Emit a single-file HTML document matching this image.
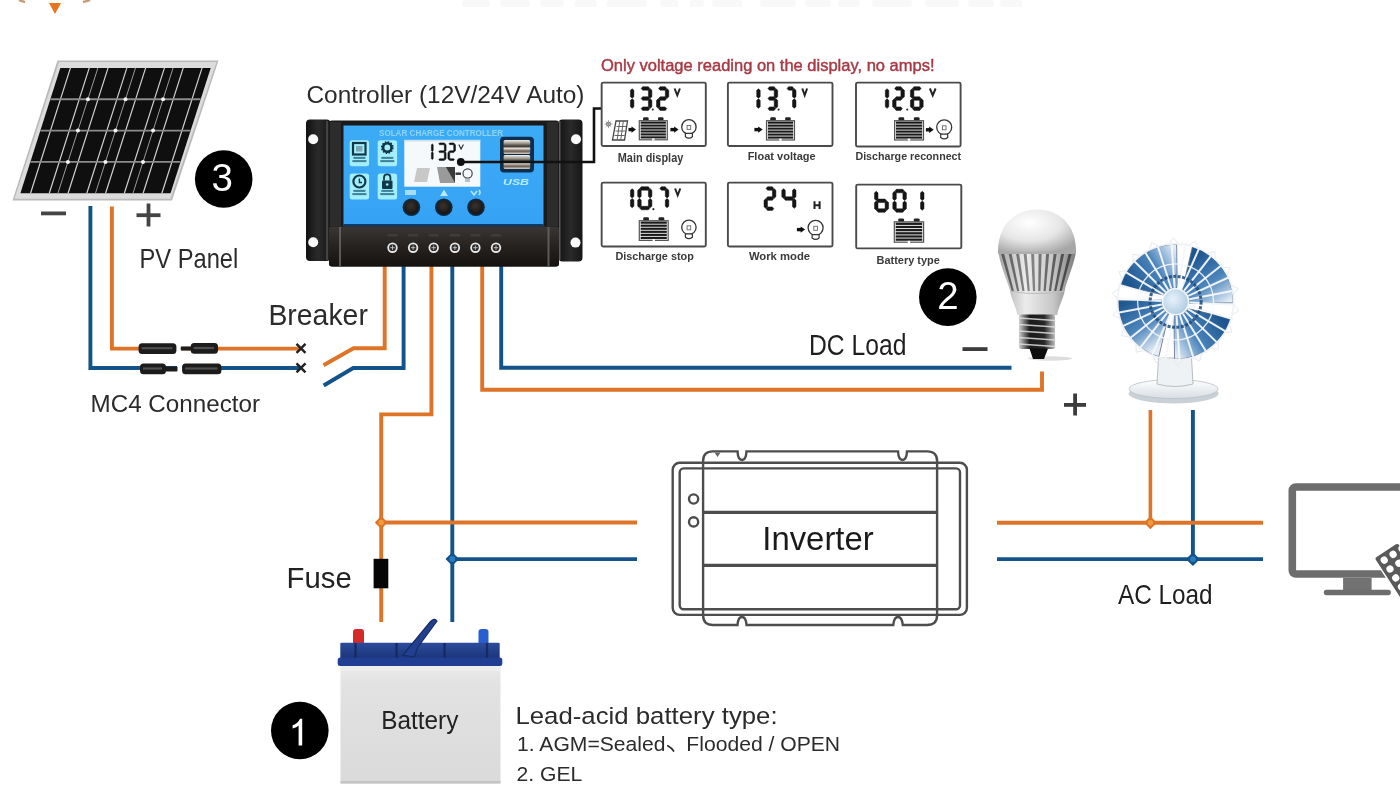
<!DOCTYPE html>
<html><head><meta charset="utf-8">
<style>
html,body{margin:0;padding:0;background:#fff;width:1400px;height:788px;overflow:hidden}
svg{display:block;will-change:transform}
text{font-family:"Liberation Sans",sans-serif}
</style></head><body>
<svg width="1400" height="788" viewBox="0 0 1400 788">
<rect width="1400" height="788" fill="#fff"/>
<polygon points="49,3 61,3 55,14" fill="#e8741f"/>
<path d="M19,0 L25,2.2" stroke="#b07a4a" stroke-width="2.4" opacity="0.75"/>
<path d="M90,0 L83,2.2" stroke="#b07a4a" stroke-width="2.4" opacity="0.75"/>
<g fill="#f8f8f8"><rect x="462" y="0" width="28" height="7" rx="2"/><rect x="500" y="0" width="30" height="7" rx="2"/><rect x="540" y="0" width="24" height="7" rx="2"/><rect x="575" y="0" width="22" height="7" rx="2"/><rect x="607" y="0" width="40" height="7" rx="2"/><rect x="660" y="0" width="18" height="7" rx="2"/><rect x="690" y="0" width="14" height="7" rx="2"/><rect x="712" y="0" width="30" height="7" rx="2"/><rect x="760" y="0" width="36" height="7" rx="2"/><rect x="805" y="0" width="26" height="7" rx="2"/><rect x="838" y="0" width="22" height="7" rx="2"/><rect x="872" y="0" width="40" height="7" rx="2"/><rect x="925" y="0" width="34" height="7" rx="2"/><rect x="968" y="0" width="26" height="7" rx="2"/><rect x="1000" y="0" width="22" height="7" rx="2"/></g>
<polygon points="57.5,60.5 218.5,60.5 172,200.5 12.5,200.5" fill="#b9b9b9"/>
<polygon points="59,62 216.5,62 170.5,198.8 14.5,198.8" fill="#dcdcdc"/>
<polygon points="60.3,67.9 210.7,67.9 170.5,193.3 20.4,193.3" fill="#0f0f0f"/>
<polygon points="61.17,69.4 96.07,69.4 87.03,97.75 52.16,97.75" fill="#0f0f0f" stroke="#0f0f0f" stroke-width="1" stroke-linejoin="round"/>
<polygon points="98.77,69.4 133.67,69.4 124.62,97.75 89.74,97.75" fill="#0f0f0f" stroke="#0f0f0f" stroke-width="1" stroke-linejoin="round"/>
<polygon points="136.37,69.4 171.26,69.4 162.2,97.75 127.32,97.75" fill="#0f0f0f" stroke="#0f0f0f" stroke-width="1" stroke-linejoin="round"/>
<polygon points="173.97,69.4 208.86,69.4 199.78,97.75 164.9,97.75" fill="#0f0f0f" stroke="#0f0f0f" stroke-width="1" stroke-linejoin="round"/>
<polygon points="51.2,100.75 86.07,100.75 77.04,129.1 42.18,129.1" fill="#0f0f0f" stroke="#0f0f0f" stroke-width="1" stroke-linejoin="round"/>
<polygon points="88.78,100.75 123.65,100.75 114.6,129.1 79.74,129.1" fill="#0f0f0f" stroke="#0f0f0f" stroke-width="1" stroke-linejoin="round"/>
<polygon points="126.36,100.75 161.23,100.75 152.17,129.1 117.31,129.1" fill="#0f0f0f" stroke="#0f0f0f" stroke-width="1" stroke-linejoin="round"/>
<polygon points="163.94,100.75 198.81,100.75 189.73,129.1 154.87,129.1" fill="#0f0f0f" stroke="#0f0f0f" stroke-width="1" stroke-linejoin="round"/>
<polygon points="41.22,132.1 76.08,132.1 67.05,160.45 32.21,160.45" fill="#0f0f0f" stroke="#0f0f0f" stroke-width="1" stroke-linejoin="round"/>
<polygon points="78.79,132.1 113.64,132.1 104.59,160.45 69.75,160.45" fill="#0f0f0f" stroke="#0f0f0f" stroke-width="1" stroke-linejoin="round"/>
<polygon points="116.35,132.1 151.2,132.1 142.14,160.45 107.29,160.45" fill="#0f0f0f" stroke="#0f0f0f" stroke-width="1" stroke-linejoin="round"/>
<polygon points="153.91,132.1 188.77,132.1 179.68,160.45 144.84,160.45" fill="#0f0f0f" stroke="#0f0f0f" stroke-width="1" stroke-linejoin="round"/>
<polygon points="31.25,163.45 66.09,163.45 57.05,191.8 22.23,191.8" fill="#0f0f0f" stroke="#0f0f0f" stroke-width="1" stroke-linejoin="round"/>
<polygon points="68.79,163.45 103.63,163.45 94.58,191.8 59.76,191.8" fill="#0f0f0f" stroke="#0f0f0f" stroke-width="1" stroke-linejoin="round"/>
<polygon points="106.33,163.45 141.17,163.45 132.11,191.8 97.28,191.8" fill="#0f0f0f" stroke="#0f0f0f" stroke-width="1" stroke-linejoin="round"/>
<polygon points="143.88,163.45 178.72,163.45 169.63,191.8 134.81,191.8" fill="#0f0f0f" stroke="#0f0f0f" stroke-width="1" stroke-linejoin="round"/>
<path d="M70.45,67.9L30.53,193.3M89.25,67.9L49.29,193.3M108.05,67.9L68.06,193.3M126.85,67.9L86.82,193.3M145.65,67.9L105.58,193.3M164.45,67.9L124.34,193.3M183.25,67.9L143.11,193.3M202.05,67.9L161.87,193.3" stroke="#d0d0d0" stroke-width="1.2"/>
<path d="M50.32,99.25L200.65,99.25M40.35,130.6L190.6,130.6M30.38,161.95L180.55,161.95" stroke="#8c8c8c" stroke-width="1.8"/>
<path d="M97.9,67.9L57.92,193.3M135.5,67.9L95.45,193.3M173.1,67.9L132.97,193.3" stroke="#9a9a9a" stroke-width="1"/>
<circle cx="87.91" cy="99.25" r="2" fill="#f2f2f2"/>
<circle cx="125.49" cy="99.25" r="2" fill="#f2f2f2"/>
<circle cx="163.07" cy="99.25" r="2" fill="#f2f2f2"/>
<circle cx="77.91" cy="130.6" r="2" fill="#f2f2f2"/>
<circle cx="115.47" cy="130.6" r="2" fill="#f2f2f2"/>
<circle cx="153.04" cy="130.6" r="2" fill="#f2f2f2"/>
<circle cx="67.92" cy="161.95" r="2" fill="#f2f2f2"/>
<circle cx="105.46" cy="161.95" r="2" fill="#f2f2f2"/>
<circle cx="143.01" cy="161.95" r="2" fill="#f2f2f2"/>
<rect x="41" y="211.5" width="25" height="3.8" fill="#444"/>
<rect x="136.5" y="213.3" width="24" height="3.8" fill="#444"/><rect x="146.6" y="203.5" width="3.8" height="23" fill="#444"/>
<polyline fill="none" stroke="#14528a" stroke-width="3.9" stroke-linejoin="miter" points="90.4,206 90.4,368 301,368"/>
<polyline fill="none" stroke="#14528a" stroke-width="3.9" stroke-linejoin="miter" points="403.6,266 403.6,368 353.2,368 323.7,385.5"/>
<polyline fill="none" stroke="#14528a" stroke-width="3.9" stroke-linejoin="miter" points="452.3,266 452.3,622"/>
<polyline fill="none" stroke="#14528a" stroke-width="3.9" stroke-linejoin="miter" points="452.3,559.1 637,559.1"/>
<polyline fill="none" stroke="#14528a" stroke-width="3.9" stroke-linejoin="miter" points="501.2,266 501.2,367.8 1011.5,367.8"/>
<polyline fill="none" stroke="#14528a" stroke-width="3.9" stroke-linejoin="miter" points="997,559.1 1263,559.1"/>
<polyline fill="none" stroke="#14528a" stroke-width="3.9" stroke-linejoin="miter" points="1192.9,410 1192.9,559.1"/>
<polyline fill="none" stroke="#de7427" stroke-width="3.9" stroke-linejoin="miter" points="111.9,206.5 111.9,348.6 301,348.6"/>
<polyline fill="none" stroke="#de7427" stroke-width="3.9" stroke-linejoin="miter" points="384.7,266 384.7,348.2 353.5,348.2 323.5,365.3"/>
<polyline fill="none" stroke="#de7427" stroke-width="3.9" stroke-linejoin="miter" points="431.4,266 431.4,414.4 381.2,414.4 381.2,622"/>
<polyline fill="none" stroke="#de7427" stroke-width="3.9" stroke-linejoin="miter" points="381.2,522.5 637,522.5"/>
<polyline fill="none" stroke="#de7427" stroke-width="3.9" stroke-linejoin="miter" points="482.2,266 482.2,389.7 1042,389.7 1042,371.5"/>
<polyline fill="none" stroke="#de7427" stroke-width="3.9" stroke-linejoin="miter" points="997,522.8 1263,522.8"/>
<polyline fill="none" stroke="#de7427" stroke-width="3.6" stroke-linejoin="miter" points="1150.4,410 1150.4,522.8"/>
<path d="M381.2,517.1 L386.6,522.5 L381.2,527.9 L375.8,522.5 Z" fill="#de7427" stroke="#de7427" stroke-width="1.5" stroke-linejoin="round"/>
<circle cx="381.2" cy="522.5" r="2.7" fill="#f49a38"/>
<path d="M452.3,553.2 L458.1,559 L452.3,564.8 L446.5,559 Z" fill="#14528a" stroke="#14528a" stroke-width="1.5" stroke-linejoin="round"/>
<circle cx="452.3" cy="559" r="2.9" fill="#2a7cc0"/>
<path d="M1150.4,517.4 L1155.8,522.8 L1150.4,528.2 L1145,522.8 Z" fill="#de7427" stroke="#de7427" stroke-width="1.5" stroke-linejoin="round"/>
<circle cx="1150.4" cy="522.8" r="2.7" fill="#f49a38"/>
<path d="M1192.9,553.3 L1198.7,559.1 L1192.9,564.9 L1187.1,559.1 Z" fill="#14528a" stroke="#14528a" stroke-width="1.5" stroke-linejoin="round"/>
<circle cx="1192.9" cy="559.1" r="2.9" fill="#2a7cc0"/>
<path d="M296.5,343.9 L305.5,352.9 M305.5,343.9 L296.5,352.9" stroke="#222" stroke-width="2.4"/>
<path d="M296.5,363.4 L305.5,372.4 M305.5,363.4 L296.5,372.4" stroke="#222" stroke-width="2.4"/>
<rect x="176" y="345" width="5" height="8" fill="#fff"/><rect x="177" y="364" width="5.5" height="9" fill="#fff"/>
<rect x="138.6" y="343.3" width="37.8" height="10.6" rx="3.5" fill="#1c1c1c"/>
<rect x="141.6" y="347.1" width="30.8" height="2.2" fill="#5c5c5c" opacity="0.8"/>
<rect x="190.7" y="343.1" width="27.3" height="10.6" rx="3.5" fill="#1c1c1c"/>
<rect x="193.7" y="346.9" width="20.3" height="2.2" fill="#5c5c5c" opacity="0.8"/>
<rect x="180.7" y="346.4" width="11" height="4.2" rx="1" fill="#1c1c1c"/>
<rect x="140" y="363.6" width="26" height="10.6" rx="3.5" fill="#1c1c1c"/>
<rect x="143" y="367.4" width="19" height="2.2" fill="#5c5c5c" opacity="0.8"/>
<rect x="182.1" y="363.6" width="39.3" height="10.6" rx="3.5" fill="#1c1c1c"/>
<rect x="185.1" y="367.4" width="32.3" height="2.2" fill="#5c5c5c" opacity="0.8"/>
<rect x="165" y="366.4" width="12.5" height="5" rx="1" fill="#1c1c1c"/>
<rect x="373.6" y="558.8" width="14.7" height="29.5" fill="#050505"/>
<rect x="962.5" y="347.2" width="25" height="3.8" fill="#3c3c3c"/>
<rect x="1064" y="403" width="22" height="3.8" fill="#3c3c3c"/><rect x="1073.2" y="393.5" width="3.8" height="22" fill="#3c3c3c"/>
<defs><linearGradient id="gBlue" x1="0" y1="0" x2="0" y2="1"><stop offset="0" stop-color="#3cacf6"/><stop offset="1" stop-color="#36a2f4"/></linearGradient><linearGradient id="gStrip" x1="0" y1="0" x2="0" y2="1"><stop offset="0" stop-color="#3a3634"/><stop offset="0.5" stop-color="#26221f"/><stop offset="1" stop-color="#141210"/></linearGradient><linearGradient id="gBrk" x1="0" y1="0" x2="1" y2="0"><stop offset="0" stop-color="#121212"/><stop offset="0.5" stop-color="#2a2a2a"/><stop offset="1" stop-color="#161616"/></linearGradient><linearGradient id="gUsb" x1="0" y1="0" x2="0" y2="1"><stop offset="0" stop-color="#f2f2f2"/><stop offset="0.25" stop-color="#9a9488"/><stop offset="0.45" stop-color="#3a3430"/><stop offset="0.6" stop-color="#e0dcd4"/><stop offset="0.8" stop-color="#6a5a50"/><stop offset="1" stop-color="#d8d2c8"/></linearGradient><radialGradient id="gBtn" cx="0.45" cy="0.4" r="0.6"><stop offset="0" stop-color="#3a332c"/><stop offset="1" stop-color="#151515"/></radialGradient></defs>
<rect x="306" y="119.5" width="24.5" height="141.5" rx="4" fill="url(#gBrk)"/>
<rect x="558.5" y="119.5" width="24" height="142" rx="4" fill="url(#gBrk)"/>
<rect x="326" y="121" width="2.2" height="139" fill="#555" opacity="0.7"/>
<rect x="558.5" y="121" width="2" height="139" fill="#777" opacity="0.7"/>
<circle cx="313.2" cy="139.2" r="5" fill="#fafafa"/>
<circle cx="313.2" cy="242.2" r="5" fill="#fafafa"/>
<circle cx="576" cy="139.2" r="5" fill="#fafafa"/>
<circle cx="575.5" cy="242.6" r="5" fill="#fafafa"/>
<rect x="329" y="120.5" width="230" height="146" rx="3" fill="#1a1a1a"/>
<rect x="330" y="122" width="11" height="104" fill="#2c2c2c"/>
<rect x="547" y="122" width="11" height="104" fill="#2c2c2c"/>
<rect x="343.5" y="125.5" width="200" height="100" fill="url(#gBlue)"/>
<rect x="343.5" y="224" width="200" height="2.6" fill="#0e3a66"/>
<text x="441" y="135.5" font-size="8.6" font-weight="bold" fill="#8fd3f7" text-anchor="middle" textLength="124" lengthAdjust="spacingAndGlyphs" font-family="Liberation Sans">SOLAR CHARGE CONTROLLER</text>
<rect x="349.7" y="140.3" width="19.4" height="26" rx="2.5" fill="#a2eefa"/>
<rect x="377.7" y="140.3" width="19.4" height="26" rx="2.5" fill="#a2eefa"/>
<rect x="349.7" y="173.4" width="19.4" height="26" rx="2.5" fill="#a2eefa"/>
<rect x="377.7" y="173.4" width="19.4" height="26" rx="2.5" fill="#a2eefa"/>
<rect x="353" y="143" width="12.5" height="11.5" fill="none" stroke="#10384a" stroke-width="2.2"/><rect x="356" y="146" width="6.5" height="5.5" fill="#7aa8b4"/>
<circle cx="387.3" cy="147.5" r="4.2" fill="none" stroke="#10384a" stroke-width="2.6"/><circle cx="387.3" cy="147.5" r="5.6" fill="none" stroke="#10384a" stroke-width="1.6" stroke-dasharray="1.5 1.4"/>
<circle cx="359.4" cy="181.5" r="6" fill="none" stroke="#10384a" stroke-width="2.2"/><path d="M359.4,178.5 V182.5 H362" fill="none" stroke="#10384a" stroke-width="1.4"/>
<rect x="382" y="180.5" width="10.5" height="8.5" rx="1" fill="#10384a"/><path d="M384,180.5 v-3 a3.2,3.2 0 0 1 6.4,0 v3" fill="none" stroke="#10384a" stroke-width="1.8"/><circle cx="387.2" cy="184.5" r="1.3" fill="#a2eefa"/>
<rect x="353.4" y="156.9" width="12" height="2" fill="#1b5a78" opacity="0.75"/><rect x="352.4" y="160.1" width="14" height="2" fill="#1b5a78" opacity="0.75"/>
<rect x="381.3" y="156.9" width="12" height="2" fill="#1b5a78" opacity="0.75"/><rect x="380.3" y="160.1" width="14" height="2" fill="#1b5a78" opacity="0.75"/>
<rect x="353.4" y="189.9" width="12" height="2" fill="#1b5a78" opacity="0.75"/><rect x="352.4" y="193.1" width="14" height="2" fill="#1b5a78" opacity="0.75"/>
<rect x="381.3" y="189.9" width="12" height="2" fill="#1b5a78" opacity="0.75"/><rect x="380.3" y="193.1" width="14" height="2" fill="#1b5a78" opacity="0.75"/>
<rect x="404.3" y="139.9" width="76" height="46.8" fill="#f6f9fb"/>
<rect x="404.3" y="139.9" width="76" height="1.6" fill="#cfe3ee"/>
<path d="M432.3,151.86L433.2,152.64L433.2,158.66L432.3,159.44L431.4,158.66L431.4,152.64ZM432.3,143.96L433.2,144.74L433.2,150.76L432.3,151.54L431.4,150.76L431.4,144.74Z" fill="#111" stroke="#111" stroke-width="0.5" stroke-linejoin="round"/>
<path d="M438.76,143.8L439.54,142.9L444.26,142.9L445.04,143.8L444.26,144.7L439.54,144.7ZM445.2,143.96L446.1,144.74L446.1,150.76L445.2,151.54L444.3,150.76L444.3,144.74ZM438.76,151.7L439.54,150.8L444.26,150.8L445.04,151.7L444.26,152.6L439.54,152.6ZM445.2,151.86L446.1,152.64L446.1,158.66L445.2,159.44L444.3,158.66L444.3,152.64ZM438.76,159.6L439.54,158.7L444.26,158.7L445.04,159.6L444.26,160.5L439.54,160.5Z" fill="#111" stroke="#111" stroke-width="0.5" stroke-linejoin="round"/>
<path d="M448.96,143.8L449.74,142.9L453.66,142.9L454.44,143.8L453.66,144.7L449.74,144.7ZM454.6,143.96L455.5,144.74L455.5,150.76L454.6,151.54L453.7,150.76L453.7,144.74ZM448.96,151.7L449.74,150.8L453.66,150.8L454.44,151.7L453.66,152.6L449.74,152.6ZM448.8,151.86L449.7,152.64L449.7,158.66L448.8,159.44L447.9,158.66L447.9,152.64ZM448.96,159.6L449.74,158.7L453.66,158.7L454.44,159.6L453.66,160.5L449.74,160.5Z" fill="#111" stroke="#111" stroke-width="0.5" stroke-linejoin="round"/>
<path d="M458.8,144.5 L461.1,149 L463.4,144.5" fill="none" stroke="#222" stroke-width="1.1"/>
<polygon points="417,168 430,168 427,182 414,182" fill="#c8c8c8"/>
<polygon points="437,167 447,167 455,183 440,183" fill="#9a9a9a"/><polygon points="446,167 455,167 455,183" fill="#3a3a3a"/>
<rect x="455.5" y="172.5" width="5.5" height="2.4" fill="#333"/>
<circle cx="467.6" cy="173.5" r="4.6" fill="none" stroke="#444" stroke-width="1.2"/><rect x="465" y="178" width="5" height="4" fill="#9ab" opacity="0.7"/>
<rect x="500" y="136.8" width="34" height="35.6" rx="4" fill="#0d2f4d"/>
<rect x="503.6" y="140" width="26.6" height="14" rx="1.5" fill="url(#gUsb)"/>
<rect x="503.6" y="155" width="26.6" height="14" rx="1.5" fill="url(#gUsb)"/>
<text x="516" y="185" font-size="9.5" font-weight="bold" font-style="italic" fill="#b8ecfc" text-anchor="middle" font-family="Liberation Sans" textLength="26" lengthAdjust="spacingAndGlyphs">USB</text>
<rect x="405" y="190" width="11" height="5" fill="#b8e6fa" opacity="0.85"/>
<polygon points="444,189.5 448,196 440,196" fill="#b8e6fa"/>
<path d="M471,191 l3,4 l3,-4 M479,190 q2,2.5 0,5" fill="none" stroke="#b8e6fa" stroke-width="1.6"/>
<circle cx="411.4" cy="207.2" r="8.8" fill="#0d2a44"/><circle cx="411.4" cy="207.2" r="7.2" fill="url(#gBtn)"/>
<circle cx="443.8" cy="207.2" r="8.8" fill="#0d2a44"/><circle cx="443.8" cy="207.2" r="7.2" fill="url(#gBtn)"/>
<circle cx="476" cy="207.2" r="8.8" fill="#0d2a44"/><circle cx="476" cy="207.2" r="7.2" fill="url(#gBtn)"/>
<polyline points="461,162 594,162 594,108.5 601,108.5" fill="none" stroke="#111" stroke-width="2.6"/>
<circle cx="460.8" cy="162" r="3.9" fill="#111"/>
<rect x="329" y="226.6" width="230" height="40" rx="3" fill="url(#gStrip)"/>
<rect x="339" y="227" width="2" height="39" fill="#6a6a6a" opacity="0.8"/><rect x="547.5" y="227" width="2" height="39" fill="#6a6a6a" opacity="0.8"/>
<circle cx="392.5" cy="247.7" r="5.2" fill="#e8e8e8"/><circle cx="392.5" cy="247.7" r="3.4" fill="#2a2a2a"/><path d="M390.3,247.7 h4.4 M392.5,245.5 v4.4" stroke="#bbb" stroke-width="1"/>
<rect x="387.5" y="234" width="10" height="2.5" fill="#4a4644" opacity="0.6"/>
<circle cx="413.1" cy="247.7" r="5.2" fill="#e8e8e8"/><circle cx="413.1" cy="247.7" r="3.4" fill="#2a2a2a"/><path d="M410.90000000000003,247.7 h4.4 M413.1,245.5 v4.4" stroke="#bbb" stroke-width="1"/>
<rect x="408.1" y="234" width="10" height="2.5" fill="#4a4644" opacity="0.6"/>
<circle cx="433.7" cy="247.7" r="5.2" fill="#e8e8e8"/><circle cx="433.7" cy="247.7" r="3.4" fill="#2a2a2a"/><path d="M431.5,247.7 h4.4 M433.7,245.5 v4.4" stroke="#bbb" stroke-width="1"/>
<rect x="428.7" y="234" width="10" height="2.5" fill="#4a4644" opacity="0.6"/>
<circle cx="454.9" cy="247.7" r="5.2" fill="#e8e8e8"/><circle cx="454.9" cy="247.7" r="3.4" fill="#2a2a2a"/><path d="M452.7,247.7 h4.4 M454.9,245.5 v4.4" stroke="#bbb" stroke-width="1"/>
<rect x="449.9" y="234" width="10" height="2.5" fill="#4a4644" opacity="0.6"/>
<circle cx="475.4" cy="247.7" r="5.2" fill="#e8e8e8"/><circle cx="475.4" cy="247.7" r="3.4" fill="#2a2a2a"/><path d="M473.2,247.7 h4.4 M475.4,245.5 v4.4" stroke="#bbb" stroke-width="1"/>
<rect x="470.4" y="234" width="10" height="2.5" fill="#4a4644" opacity="0.6"/>
<circle cx="496" cy="247.7" r="5.2" fill="#e8e8e8"/><circle cx="496" cy="247.7" r="3.4" fill="#2a2a2a"/><path d="M493.8,247.7 h4.4 M496,245.5 v4.4" stroke="#bbb" stroke-width="1"/>
<rect x="491" y="234" width="10" height="2.5" fill="#4a4644" opacity="0.6"/>
<rect x="601.65" y="82.6" width="104.15" height="63.4" rx="1.5" fill="#fff" stroke="#4a4a4a" stroke-width="1.9"/>
<rect x="727.9" y="82.6" width="104.6" height="63.4" rx="1.5" fill="#fff" stroke="#4a4a4a" stroke-width="1.9"/>
<rect x="856" y="82.6" width="104.6" height="63.9" rx="1.5" fill="#fff" stroke="#4a4a4a" stroke-width="1.9"/>
<rect x="601.65" y="182.6" width="104.15" height="63.9" rx="1.5" fill="#fff" stroke="#4a4a4a" stroke-width="1.9"/>
<rect x="727.9" y="182.6" width="104.6" height="63.9" rx="1.5" fill="#fff" stroke="#4a4a4a" stroke-width="1.9"/>
<rect x="856.2" y="184.6" width="105.1" height="63.8" rx="1.5" fill="#fff" stroke="#4a4a4a" stroke-width="1.9"/>
<path d="M632.15,98.87L633.9,100.37L633.9,106.83L632.15,108.34L630.4,106.83L630.4,100.37ZM632.15,88.77L633.9,90.27L633.9,96.73L632.15,98.24L630.4,96.73L630.4,90.27Z" fill="#151515" stroke="#151515" stroke-width="0.5" stroke-linejoin="round"/>
<path d="M641.17,88.45L642.67,86.7L648.33,86.7L649.83,88.45L648.33,90.2L642.67,90.2ZM650.15,88.77L651.9,90.27L651.9,96.73L650.15,98.24L648.4,96.73L648.4,90.27ZM641.17,98.55L642.67,96.8L648.33,96.8L649.83,98.55L648.33,100.3L642.67,100.3ZM650.15,98.87L651.9,100.37L651.9,106.83L650.15,108.34L648.4,106.83L648.4,100.37ZM641.17,108.65L642.67,106.9L648.33,106.9L649.83,108.65L648.33,110.4L642.67,110.4Z" fill="#151515" stroke="#151515" stroke-width="0.5" stroke-linejoin="round"/>
<path d="M658.57,88.45L660.07,86.7L665.23,86.7L666.73,88.45L665.23,90.2L660.07,90.2ZM667.05,88.77L668.8,90.27L668.8,96.73L667.05,98.24L665.3,96.73L665.3,90.27ZM658.57,98.55L660.07,96.8L665.23,96.8L666.73,98.55L665.23,100.3L660.07,100.3ZM658.25,98.87L660,100.37L660,106.83L658.25,108.34L656.5,106.83L656.5,100.37ZM658.57,108.65L660.07,106.9L665.23,106.9L666.73,108.65L665.23,110.4L660.07,110.4Z" fill="#151515" stroke="#151515" stroke-width="0.5" stroke-linejoin="round"/>
<path d="M758.45,98.87L760.2,100.37L760.2,106.83L758.45,108.34L756.7,106.83L756.7,100.37ZM758.45,88.77L760.2,90.27L760.2,96.73L758.45,98.24L756.7,96.73L756.7,90.27Z" fill="#151515" stroke="#151515" stroke-width="0.5" stroke-linejoin="round"/>
<path d="M767.97,88.45L769.47,86.7L774.13,86.7L775.63,88.45L774.13,90.2L769.47,90.2ZM775.95,88.77L777.7,90.27L777.7,96.73L775.95,98.24L774.2,96.73L774.2,90.27ZM767.97,98.55L769.47,96.8L774.13,96.8L775.63,98.55L774.13,100.3L769.47,100.3ZM775.95,98.87L777.7,100.37L777.7,106.83L775.95,108.34L774.2,106.83L774.2,100.37ZM767.97,108.65L769.47,106.9L774.13,106.9L775.63,108.65L774.13,110.4L769.47,110.4Z" fill="#151515" stroke="#151515" stroke-width="0.5" stroke-linejoin="round"/>
<path d="M787.07,88.45L788.57,86.7L792.43,86.7L793.93,88.45L792.43,90.2L788.57,90.2ZM794.25,88.77L796,90.27L796,96.73L794.25,98.24L792.5,96.73L792.5,90.27ZM794.25,98.87L796,100.37L796,106.83L794.25,108.34L792.5,106.83L792.5,100.37Z" fill="#151515" stroke="#151515" stroke-width="0.5" stroke-linejoin="round"/>
<path d="M887.05,98.87L888.8,100.37L888.8,106.83L887.05,108.34L885.3,106.83L885.3,100.37ZM887.05,88.77L888.8,90.27L888.8,96.73L887.05,98.24L885.3,96.73L885.3,90.27Z" fill="#151515" stroke="#151515" stroke-width="0.5" stroke-linejoin="round"/>
<path d="M894.67,88.45L896.17,86.7L900.83,86.7L902.33,88.45L900.83,90.2L896.17,90.2ZM902.65,88.77L904.4,90.27L904.4,96.73L902.65,98.24L900.9,96.73L900.9,90.27ZM894.67,98.55L896.17,96.8L900.83,96.8L902.33,98.55L900.83,100.3L896.17,100.3ZM894.35,98.87L896.1,100.37L896.1,106.83L894.35,108.34L892.6,106.83L892.6,100.37ZM894.67,108.65L896.17,106.9L900.83,106.9L902.33,108.65L900.83,110.4L896.17,110.4Z" fill="#151515" stroke="#151515" stroke-width="0.5" stroke-linejoin="round"/>
<path d="M912.47,88.45L913.97,86.7L919.63,86.7L921.13,88.45L919.63,90.2L913.97,90.2ZM912.15,88.77L913.9,90.27L913.9,96.73L912.15,98.24L910.4,96.73L910.4,90.27ZM912.15,98.87L913.9,100.37L913.9,106.83L912.15,108.34L910.4,106.83L910.4,100.37ZM912.47,108.65L913.97,106.9L919.63,106.9L921.13,108.65L919.63,110.4L913.97,110.4ZM921.45,98.87L923.2,100.37L923.2,106.83L921.45,108.34L919.7,106.83L919.7,100.37ZM912.47,98.55L913.97,96.8L919.63,96.8L921.13,98.55L919.63,100.3L913.97,100.3Z" fill="#151515" stroke="#151515" stroke-width="0.5" stroke-linejoin="round"/>
<path d="M632.15,198.56L633.9,200.07L633.9,206.23L632.15,207.74L630.4,206.23L630.4,200.07ZM632.15,188.76L633.9,190.27L633.9,196.43L632.15,197.94L630.4,196.43L630.4,190.27Z" fill="#151515" stroke="#151515" stroke-width="0.5" stroke-linejoin="round"/>
<path d="M639.77,188.45L641.27,186.7L648.33,186.7L649.84,188.45L648.33,190.2L641.27,190.2ZM650.15,188.76L651.9,190.27L651.9,196.43L650.15,197.94L648.4,196.43L648.4,190.27ZM650.15,198.56L651.9,200.07L651.9,206.23L650.15,207.74L648.4,206.23L648.4,200.07ZM639.77,208.05L641.27,206.3L648.33,206.3L649.84,208.05L648.33,209.8L641.27,209.8ZM639.45,198.56L641.2,200.07L641.2,206.23L639.45,207.74L637.7,206.23L637.7,200.07ZM639.45,188.76L641.2,190.27L641.2,196.43L639.45,197.94L637.7,196.43L637.7,190.27Z" fill="#151515" stroke="#151515" stroke-width="0.5" stroke-linejoin="round"/>
<path d="M659.87,188.45L661.37,186.7L665.23,186.7L666.73,188.45L665.23,190.2L661.37,190.2ZM667.05,188.76L668.8,190.27L668.8,196.43L667.05,197.94L665.3,196.43L665.3,190.27ZM667.05,198.56L668.8,200.07L668.8,206.23L667.05,207.74L665.3,206.23L665.3,200.07Z" fill="#151515" stroke="#151515" stroke-width="0.5" stroke-linejoin="round"/>
<path d="M766.07,188.45L767.57,186.7L772.33,186.7L773.83,188.45L772.33,190.2L767.57,190.2ZM774.15,188.76L775.9,190.27L775.9,196.73L774.15,198.24L772.4,196.73L772.4,190.27ZM766.07,198.55L767.57,196.8L772.33,196.8L773.83,198.55L772.33,200.3L767.57,200.3ZM765.75,198.87L767.5,200.37L767.5,206.83L765.75,208.34L764,206.83L764,200.37ZM766.07,208.65L767.57,206.9L772.33,206.9L773.83,208.65L772.33,210.4L767.57,210.4Z" fill="#151515" stroke="#151515" stroke-width="0.5" stroke-linejoin="round"/>
<path d="M783.55,188.76L785.3,190.27L785.3,196.73L783.55,198.24L781.8,196.73L781.8,190.27ZM783.87,198.55L785.37,196.8L792.43,196.8L793.93,198.55L792.43,200.3L785.37,200.3ZM794.25,188.76L796,190.27L796,196.73L794.25,198.24L792.5,196.73L792.5,190.27ZM794.25,198.87L796,200.37L796,206.83L794.25,208.34L792.5,206.83L792.5,200.37Z" fill="#151515" stroke="#151515" stroke-width="0.5" stroke-linejoin="round"/>
<path d="M876.25,191.37L878,192.87L878,198.98L876.25,200.49L874.5,198.98L874.5,192.87ZM876.25,201.12L878,202.62L878,208.73L876.25,210.24L874.5,208.73L874.5,202.62ZM876.57,210.55L878.07,208.8L885.03,208.8L886.53,210.55L885.03,212.3L878.07,212.3ZM886.85,201.12L888.6,202.62L888.6,208.73L886.85,210.24L885.1,208.73L885.1,202.62ZM876.57,200.8L878.07,199.05L885.03,199.05L886.53,200.8L885.03,202.55L878.07,202.55Z" fill="#151515" stroke="#151515" stroke-width="0.5" stroke-linejoin="round"/>
<path d="M894.87,191.05L896.37,189.3L902.83,189.3L904.33,191.05L902.83,192.8L896.37,192.8ZM904.65,191.37L906.4,192.87L906.4,198.98L904.65,200.49L902.9,198.98L902.9,192.87ZM904.65,201.12L906.4,202.62L906.4,208.73L904.65,210.24L902.9,208.73L902.9,202.62ZM894.87,210.55L896.37,208.8L902.83,208.8L904.33,210.55L902.83,212.3L896.37,212.3ZM894.55,201.12L896.3,202.62L896.3,208.73L894.55,210.24L892.8,208.73L892.8,202.62ZM894.55,191.37L896.3,192.87L896.3,198.98L894.55,200.49L892.8,198.98L892.8,192.87Z" fill="#151515" stroke="#151515" stroke-width="0.5" stroke-linejoin="round"/>
<path d="M922.25,201.12L924,202.62L924,208.73L922.25,210.24L920.5,208.73L920.5,202.62ZM922.25,191.37L924,192.87L924,198.98L922.25,200.49L920.5,198.98L920.5,192.87Z" fill="#151515" stroke="#151515" stroke-width="0.5" stroke-linejoin="round"/>
<circle cx="652.8" cy="109.6" r="1.1" fill="#333"/>
<circle cx="778.6" cy="109.6" r="1.1" fill="#333"/>
<circle cx="907.2" cy="109.6" r="1.1" fill="#333"/>
<circle cx="653.4" cy="209.2" r="1.1" fill="#333"/>
<path d="M674.6,88.5 L677.25,95.3 L679.9,88.5" fill="none" stroke="#222" stroke-width="2"/>
<path d="M802.3,88.5 L804.7,95.3 L807.1,88.5" fill="none" stroke="#222" stroke-width="2"/>
<path d="M929.9,88.5 L932.75,95.3 L935.6,88.5" fill="none" stroke="#222" stroke-width="2"/>
<path d="M675.1,188.5 L677.7,195.3 L680.3,188.5" fill="none" stroke="#222" stroke-width="2"/>
<path d="M814.5,201.3 V209 M819.6,201.3 V209 M814.5,205.2 H819.6" fill="none" stroke="#222" stroke-width="2"/>
<rect x="643.08" y="117.3" width="5.55" height="3.5" rx="1.2" fill="#222"/>
<rect x="657.97" y="117.3" width="5.55" height="3.5" rx="1.2" fill="#222"/>
<rect x="639.3" y="120.7" width="28" height="19.1" fill="#eee" stroke="#555" stroke-width="1.2"/>
<rect x="640.7" y="121.6" width="25.2" height="2.07" fill="#1a1a1a"/>
<rect x="640.7" y="124.55" width="25.2" height="2.07" fill="#1a1a1a"/>
<rect x="640.7" y="127.5" width="25.2" height="2.07" fill="#1a1a1a"/>
<rect x="640.7" y="130.45" width="25.2" height="2.07" fill="#1a1a1a"/>
<rect x="640.7" y="133.4" width="25.2" height="2.07" fill="#1a1a1a"/>
<rect x="640.7" y="136.35" width="25.2" height="2.07" fill="#1a1a1a"/>
<rect x="652.13" y="138.4" width="2.34" height="2.2" fill="#fff"/>
<rect x="770.28" y="117.3" width="5.55" height="3.5" rx="1.2" fill="#222"/>
<rect x="785.17" y="117.3" width="5.55" height="3.5" rx="1.2" fill="#222"/>
<rect x="766.5" y="120.7" width="28" height="19.3" fill="#eee" stroke="#555" stroke-width="1.2"/>
<rect x="767.9" y="121.6" width="25.2" height="2.09" fill="#1a1a1a"/>
<rect x="767.9" y="124.58" width="25.2" height="2.09" fill="#1a1a1a"/>
<rect x="767.9" y="127.57" width="25.2" height="2.09" fill="#1a1a1a"/>
<rect x="767.9" y="130.55" width="25.2" height="2.09" fill="#1a1a1a"/>
<rect x="767.9" y="133.53" width="25.2" height="2.09" fill="#1a1a1a"/>
<rect x="767.9" y="136.52" width="25.2" height="2.09" fill="#1a1a1a"/>
<rect x="779.33" y="138.6" width="2.34" height="2.2" fill="#fff"/>
<rect x="898.51" y="117.3" width="5.72" height="3.5" rx="1.2" fill="#222"/>
<rect x="913.87" y="117.3" width="5.72" height="3.5" rx="1.2" fill="#222"/>
<rect x="894.6" y="120.7" width="28.9" height="19.3" fill="#eee" stroke="#555" stroke-width="1.2"/>
<rect x="896" y="121.6" width="26.1" height="2.09" fill="#1a1a1a"/>
<rect x="896" y="124.58" width="26.1" height="2.09" fill="#1a1a1a"/>
<rect x="896" y="127.57" width="26.1" height="2.09" fill="#1a1a1a"/>
<rect x="896" y="130.55" width="26.1" height="2.09" fill="#1a1a1a"/>
<rect x="896" y="133.53" width="26.1" height="2.09" fill="#1a1a1a"/>
<rect x="896" y="136.52" width="26.1" height="2.09" fill="#1a1a1a"/>
<rect x="907.85" y="138.6" width="2.41" height="2.2" fill="#fff"/>
<rect x="643.22" y="217.3" width="5.72" height="3.5" rx="1.2" fill="#222"/>
<rect x="658.57" y="217.3" width="5.72" height="3.5" rx="1.2" fill="#222"/>
<rect x="639.3" y="220.7" width="28.9" height="19.7" fill="#eee" stroke="#555" stroke-width="1.2"/>
<rect x="640.7" y="221.6" width="26.1" height="2.13" fill="#1a1a1a"/>
<rect x="640.7" y="224.65" width="26.1" height="2.13" fill="#1a1a1a"/>
<rect x="640.7" y="227.7" width="26.1" height="2.13" fill="#1a1a1a"/>
<rect x="640.7" y="230.75" width="26.1" height="2.13" fill="#1a1a1a"/>
<rect x="640.7" y="233.8" width="26.1" height="2.13" fill="#1a1a1a"/>
<rect x="640.7" y="236.85" width="26.1" height="2.13" fill="#1a1a1a"/>
<rect x="652.55" y="239" width="2.41" height="2.2" fill="#fff"/>
<rect x="898.28" y="218.4" width="5.79" height="3.5" rx="1.2" fill="#222"/>
<rect x="913.83" y="218.4" width="5.79" height="3.5" rx="1.2" fill="#222"/>
<rect x="894.3" y="221.8" width="29.3" height="20.4" fill="#eee" stroke="#555" stroke-width="1.2"/>
<rect x="895.7" y="222.7" width="26.5" height="2.22" fill="#1a1a1a"/>
<rect x="895.7" y="225.87" width="26.5" height="2.22" fill="#1a1a1a"/>
<rect x="895.7" y="229.03" width="26.5" height="2.22" fill="#1a1a1a"/>
<rect x="895.7" y="232.2" width="26.5" height="2.22" fill="#1a1a1a"/>
<rect x="895.7" y="235.37" width="26.5" height="2.22" fill="#1a1a1a"/>
<rect x="895.7" y="238.53" width="26.5" height="2.22" fill="#1a1a1a"/>
<rect x="907.73" y="240.8" width="2.44" height="2.2" fill="#fff"/>
<path d="M628.5,129.6 H633" stroke="#111" stroke-width="3.4"/><polygon points="631.5,126.4 636,129.6 631.5,132.8" fill="#111"/>
<path d="M670.4,129.6 H675.6" stroke="#111" stroke-width="3.4"/><polygon points="674.1,126.4 678.6,129.6 674.1,132.8" fill="#111"/>
<path d="M754.4,129.6 H759.7" stroke="#111" stroke-width="3.4"/><polygon points="758.2,126.4 762.7,129.6 758.2,132.8" fill="#111"/>
<path d="M925.9,129.8 H930.7" stroke="#111" stroke-width="3.4"/><polygon points="929.2,126.6 933.7,129.8 929.2,133" fill="#111"/>
<path d="M796.9,229.6 H802.1" stroke="#111" stroke-width="3.4"/><polygon points="800.6,226.4 805.1,229.6 800.6,232.8" fill="#111"/>
<circle cx="688.9" cy="126.9" r="7.2" fill="#fff" stroke="#333" stroke-width="1.3"/>
<path d="M685.4,133.38 h7 v3.4 q-3.5,2.8 -7,0 z" fill="#fff" stroke="#333" stroke-width="1.2"/>
<rect x="687.1" y="125.4" width="3.6" height="4" fill="none" stroke="#666" stroke-width="0.9"/>
<circle cx="944.2" cy="127.3" r="7.5" fill="#fff" stroke="#333" stroke-width="1.3"/>
<path d="M940.7,134.05 h7 v3.4 q-3.5,2.8 -7,0 z" fill="#fff" stroke="#333" stroke-width="1.2"/>
<rect x="942.4" y="125.8" width="3.6" height="4" fill="none" stroke="#666" stroke-width="0.9"/>
<circle cx="688.9" cy="227.3" r="7.2" fill="#fff" stroke="#333" stroke-width="1.3"/>
<path d="M685.4,233.78 h7 v3.4 q-3.5,2.8 -7,0 z" fill="#fff" stroke="#333" stroke-width="1.2"/>
<rect x="687.1" y="225.8" width="3.6" height="4" fill="none" stroke="#666" stroke-width="0.9"/>
<circle cx="815.6" cy="227.8" r="7.5" fill="#fff" stroke="#333" stroke-width="1.3"/>
<path d="M812.1,234.55 h7 v3.4 q-3.5,2.8 -7,0 z" fill="#fff" stroke="#333" stroke-width="1.2"/>
<rect x="813.8" y="226.3" width="3.6" height="4" fill="none" stroke="#666" stroke-width="0.9"/>
<polygon points="616,121 627.5,121 624.5,140 612.5,140" fill="#fff" stroke="#444" stroke-width="1.3"/>
<path d="M616.5,126.5 H626 M615.5,131 H625.3 M614.5,135.5 H624.6 M619.7,121.5 L617.2,139.5 M623.3,121.5 L620.8,139.5" stroke="#555" stroke-width="0.9"/>
<circle cx="608.5" cy="124.1" r="2" fill="none" stroke="#666" stroke-width="1"/><path d="M604.5,124.1 h8 M608.5,120.1 v8 M605.7,121.3 l5.6,5.6 M611.3,121.3 l-5.6,5.6" stroke="#888" stroke-width="0.7"/>
<defs><radialGradient id="gDome" cx="0.4" cy="0.3" r="0.75"><stop offset="0" stop-color="#ffffff"/><stop offset="0.55" stop-color="#e6e6e6"/><stop offset="1" stop-color="#a6a6a6"/></radialGradient><linearGradient id="gBody" x1="0" y1="0" x2="1" y2="0"><stop offset="0" stop-color="#a4a4a4"/><stop offset="0.35" stop-color="#ececec"/><stop offset="0.7" stop-color="#c8c8c8"/><stop offset="1" stop-color="#7c7c7c"/></linearGradient><linearGradient id="gScrew" x1="0" y1="0" x2="1" y2="0"><stop offset="0" stop-color="#cfcfcf"/><stop offset="0.3" stop-color="#1a1a1a"/><stop offset="0.7" stop-color="#262626"/><stop offset="1" stop-color="#bdbdbd"/></linearGradient></defs>
<ellipse cx="1050" cy="358.5" rx="22" ry="2.2" fill="#cfcfcf" opacity="0.7"/>
<path d="M998.5,253 L1075.8,253 C1073,268 1066,282 1064.8,290.6 C1063,300 1058,308 1057.3,315 L1017.4,315 C1016.5,308 1011.5,300 1009.8,290.6 C1008,282 1001,268 998.5,253 Z" fill="url(#gBody)"/>
<path d="M1001.12,254 L1004.12,254 L1013.91,291 L1011.79,291 Z" fill="#3a3a3a" opacity="0.72"/>
<path d="M1008.62,254 L1011.62,254 L1019.22,291 L1017.1,291 Z" fill="#3a3a3a" opacity="0.67"/>
<path d="M1016.12,254 L1019.12,254 L1024.52,291 L1022.39,291 Z" fill="#3a3a3a" opacity="0.62"/>
<path d="M1023.62,254 L1026.62,254 L1029.82,291 L1027.69,291 Z" fill="#3a3a3a" opacity="0.57"/>
<path d="M1031.12,254 L1034.12,254 L1035.12,291 L1032.99,291 Z" fill="#3a3a3a" opacity="0.58"/>
<path d="M1038.62,254 L1041.62,254 L1040.41,291 L1038.3,291 Z" fill="#3a3a3a" opacity="0.63"/>
<path d="M1046.12,254 L1049.12,254 L1045.71,291 L1043.6,291 Z" fill="#3a3a3a" opacity="0.68"/>
<path d="M1053.62,254 L1056.62,254 L1051.02,291 L1048.89,291 Z" fill="#3a3a3a" opacity="0.73"/>
<path d="M1061.12,254 L1064.12,254 L1056.32,291 L1054.19,291 Z" fill="#3a3a3a" opacity="0.78"/>
<path d="M1068.62,254 L1071.62,254 L1061.62,291 L1059.49,291 Z" fill="#3a3a3a" opacity="0.83"/>
<path d="M1010,291 Q1037,296 1064.5,291" stroke="#bdbdbd" stroke-width="1.2" fill="none"/>
<path d="M998,253.5 C997,226 1014,209.5 1037,209.5 C1060,209.5 1077,226 1076,253.5 Z" fill="url(#gDome)"/>
<path d="M998,253 H1076" stroke="#a8a8a8" stroke-width="1.5"/>
<rect x="1019" y="314.5" width="36" height="34.5" rx="2" fill="url(#gScrew)"/>
<path d="M1018.5,318 L1055.5,320.5" stroke="#e0e0e0" stroke-width="1.6" opacity="0.85"/>
<path d="M1018.5,324.5 L1055.5,327" stroke="#e0e0e0" stroke-width="1.6" opacity="0.85"/>
<path d="M1018.5,331 L1055.5,333.5" stroke="#e0e0e0" stroke-width="1.6" opacity="0.85"/>
<path d="M1018.5,337.5 L1055.5,340" stroke="#e0e0e0" stroke-width="1.6" opacity="0.85"/>
<path d="M1018.5,344 L1055.5,346.5" stroke="#e0e0e0" stroke-width="1.6" opacity="0.85"/>
<path d="M1029.5,348.5 L1048,348.5 L1044,359 L1033,359 Z" fill="#0c0c0c"/>
<defs><linearGradient id="gBlade" x1="0" y1="0" x2="1" y2="1"><stop offset="0" stop-color="#245f9a"/><stop offset="0.55" stop-color="#4f88c0"/><stop offset="1" stop-color="#c0d6ec"/></linearGradient><radialGradient id="gHub" cx="0.4" cy="0.4" r="0.7"><stop offset="0" stop-color="#e8f2fa"/><stop offset="1" stop-color="#a9c8e2"/></radialGradient><linearGradient id="gBase" x1="0" y1="0" x2="0" y2="1"><stop offset="0" stop-color="#ffffff"/><stop offset="1" stop-color="#d9dee3"/></linearGradient></defs>
<ellipse cx="1173.6" cy="393.5" rx="45" ry="10" fill="#c9d0d6"/>
<ellipse cx="1173.6" cy="389" rx="44.5" ry="9.5" fill="url(#gBase)" stroke="#b8c0c8" stroke-width="0.8"/>
<path d="M1158.5,358 L1191.5,358 L1193,384 Q1175,389 1157,384 Z" fill="#eef2f5" stroke="#b0b8c0" stroke-width="0.9"/>
<defs><linearGradient id="gBl0" gradientUnits="userSpaceOnUse" x1="1132.57" y1="288.64" x2="1181.08" y2="257.14"><stop offset="0" stop-color="#1d568f"/><stop offset="0.55" stop-color="#4d85bd"/><stop offset="1" stop-color="#e4edf6"/></linearGradient><linearGradient id="gBl1" gradientUnits="userSpaceOnUse" x1="1188.76" y1="258.77" x2="1220.26" y2="307.28"><stop offset="0" stop-color="#1d568f"/><stop offset="0.55" stop-color="#4d85bd"/><stop offset="1" stop-color="#e4edf6"/></linearGradient><linearGradient id="gBl2" gradientUnits="userSpaceOnUse" x1="1218.63" y1="314.96" x2="1170.12" y2="346.46"><stop offset="0" stop-color="#1d568f"/><stop offset="0.55" stop-color="#4d85bd"/><stop offset="1" stop-color="#e4edf6"/></linearGradient><linearGradient id="gBl3" gradientUnits="userSpaceOnUse" x1="1130.94" y1="296.32" x2="1162.44" y2="344.83"><stop offset="0" stop-color="#1d568f"/><stop offset="0.55" stop-color="#4d85bd"/><stop offset="1" stop-color="#e4edf6"/></linearGradient></defs>
<path d="M1163.36,295.01 L1120.61,284.99 A57.5,57.5 0 0 1 1176.6,244.31 L1177.31,287.9 A14,14 0 0 0 1163.36,295.01 Z" fill="url(#gBl0)" stroke="#5a6f86" stroke-width="0.8"/>
<path d="M1182.39,289.56 L1192.41,246.81 A57.5,57.5 0 0 1 1233.09,302.8 L1189.5,303.51 A14,14 0 0 0 1182.39,289.56 Z" fill="url(#gBl1)" stroke="#5a6f86" stroke-width="0.8"/>
<path d="M1187.84,308.59 L1230.59,318.61 A57.5,57.5 0 0 1 1174.6,359.29 L1173.89,315.7 A14,14 0 0 0 1187.84,308.59 Z" fill="url(#gBl2)" stroke="#5a6f86" stroke-width="0.8"/>
<path d="M1168.81,314.04 L1158.79,356.79 A57.5,57.5 0 0 1 1118.11,300.8 L1161.7,300.09 A14,14 0 0 0 1168.81,314.04 Z" fill="url(#gBl3)" stroke="#5a6f86" stroke-width="0.8"/>
<path d="M1189.58,302.53L1235.52,304.94M1189,305.86L1233.03,319.19M1187.64,308.95L1227.2,332.43M1185.58,311.62L1218.37,343.88M1182.94,313.72L1207.05,352.9M1179.87,315.13L1193.91,358.94M1176.56,315.77L1179.71,361.66M1173.19,315.59L1165.26,360.9M1169.96,314.61L1151.42,356.71M1167.05,312.89L1138.98,349.33M1164.65,310.52L1128.67,339.18M1162.88,307.65L1121.09,326.86M1161.85,304.43L1116.67,313.09M1161.62,301.07L1115.68,298.66M1162.2,297.74L1118.17,284.41M1163.56,294.65L1124,271.17M1165.62,291.98L1132.83,259.72M1168.26,289.88L1144.15,250.7M1171.33,288.47L1157.29,244.66M1174.64,287.83L1171.49,241.94M1178.01,288.01L1185.94,242.7M1181.24,288.99L1199.78,246.89M1184.15,290.71L1212.22,254.27M1186.55,293.08L1222.53,264.42M1188.32,295.95L1230.11,276.74M1189.35,299.17L1234.53,290.51" stroke="#f4f8fb" stroke-width="2" opacity="0.95"/>
<path d="M1233.52,304.84L1238.98,310.71L1232.11,314.85M1228.99,324.46L1232.11,331.85L1224.24,333.39M1218.02,341.36L1218.42,349.36L1210.51,348.12M1201.93,353.48L1199.57,361.14L1192.56,357.27M1182.67,359.37L1177.83,365.76L1172.56,359.72M1162.55,358.31L1155.82,362.67L1152.94,355.19M1144.01,350.44L1136.2,352.23L1136.04,344.22M1129.28,336.71L1121.32,335.71L1123.92,328.13M1120.13,318.76L1113,315.11L1118.03,308.87M1117.68,298.76L1112.22,292.89L1119.09,288.75M1122.21,279.14L1119.09,271.75L1126.96,270.21M1133.18,262.24L1132.78,254.24L1140.69,255.48M1149.27,250.12L1151.63,242.46L1158.64,246.33M1168.53,244.23L1173.37,237.84L1178.64,243.88M1188.65,245.29L1195.38,240.93L1198.26,248.41M1207.19,253.16L1215,251.37L1215.16,259.38M1221.92,266.89L1229.88,267.89L1227.28,275.47M1231.07,284.84L1238.2,288.49L1233.17,294.73" stroke="#e2e6ea" stroke-width="0.9" fill="none"/>
<circle cx="1175.6" cy="301.8" r="58" fill="none" stroke="#eef2f5" stroke-width="1.6"/>
<circle cx="1175.6" cy="301.8" r="25.5" fill="none" stroke="#1b4a78" stroke-width="3" stroke-dasharray="3 1.5" opacity="0.85"/>
<circle cx="1175.6" cy="301.8" r="38" fill="none" stroke="#f4f8fb" stroke-width="1.3" opacity="0.9"/>
<circle cx="1175.6" cy="301.8" r="13" fill="url(#gHub)" stroke="#f0f4f8" stroke-width="1.6"/>
<rect x="672.7" y="462.8" width="294.2" height="152.1" rx="7" fill="none" stroke="#4d4d4d" stroke-width="2.4"/>
<rect x="679.7" y="468.4" width="280.3" height="140.8" rx="4" fill="none" stroke="#4d4d4d" stroke-width="2.4"/>
<path d="M703.1,615 V461 Q703.1,451.4 713,451.4 H737.5 Q738,460 742,460 Q746,460 746.5,451.4 H898 Q898.5,460 902.5,460 Q906.5,460 907,451.4 H927 Q937.1,451.4 937.1,461 V615 Q937.1,625 927,625 H902.8 Q902,617 898,617 Q894,617 893.3,625 H746.5 Q746,617 742,617 Q738,617 737.5,625 H713 Q703.1,625 703.1,615" fill="none" stroke="#4d4d4d" stroke-width="2.4"/>
<path d="M703.1,512.3 H937.1 M703.1,565.4 H937.1" stroke="#4d4d4d" stroke-width="3.2"/>
<circle cx="693.6" cy="499" r="4.6" fill="none" stroke="#4d4d4d" stroke-width="2.4" stroke-width="2"/>
<circle cx="693.6" cy="521.9" r="4.6" fill="none" stroke="#4d4d4d" stroke-width="2.4" stroke-width="2"/>
<path d="M714.5,452.5 L720.5,452.5 L717.5,457 Z" fill="#666"/>
<defs><linearGradient id="gBat" x1="0" y1="0" x2="0" y2="1"><stop offset="0" stop-color="#ececec"/><stop offset="0.15" stop-color="#e2e2e2"/><stop offset="1" stop-color="#dadada"/></linearGradient><linearGradient id="gLid" x1="0" y1="0" x2="0" y2="1"><stop offset="0" stop-color="#2d4c9c"/><stop offset="1" stop-color="#1a3478"/></linearGradient></defs>
<rect x="340.5" y="665" width="160" height="118.5" fill="url(#gBat)"/>
<rect x="340.5" y="781" width="160" height="2.5" fill="#c4c4c4"/>
<rect x="340.5" y="665" width="160" height="6" fill="#eeeeee"/>
<path d="M353,643 v-11 q0,-3 3,-3 h5 q3,0 3,3 v11 z" fill="#d42a2a"/>
<path d="M478.5,643 v-11 q0,-3 3,-3 h4 q3,0 3,3 v11 z" fill="#2a5ed0"/>
<rect x="340.3" y="642.8" width="159.4" height="16" rx="1" fill="url(#gLid)"/>
<rect x="337.7" y="657.5" width="164.6" height="8.4" rx="2.5" fill="#203f92"/>
<path d="M355.5,643 v15 M396.5,643 v15 M444.5,643 v15 M487,643 v15" stroke="#142a60" stroke-width="2.2"/>
<path d="M403,655 L430.5,621.5 Q434.5,617.5 437,621 L418,647 L414,657 Z" fill="#233f90" stroke="#162c68" stroke-width="1.2"/>
<rect x="1292.3" y="487" width="130" height="87" rx="3.5" fill="none" stroke="#6d6d6d" stroke-width="7.6"/>
<rect x="1343.1" y="577.8" width="28.5" height="12.5" fill="#727272"/>
<rect x="1323.8" y="589.8" width="67.1" height="5.4" rx="2.7" fill="#6d6d6d"/>
<g transform="translate(1373.7,557.9) rotate(-33)"><rect x="0" y="0" width="29" height="90" rx="3" fill="#5a5a5a" stroke="#fff" stroke-width="1.5"/><circle cx="7.6" cy="7.6" r="3.6" fill="#fff"/><circle cx="7.6" cy="18.2" r="3.6" fill="#fff"/><circle cx="7.6" cy="28.8" r="3.6" fill="#fff"/><circle cx="7.6" cy="39.4" r="3.6" fill="#fff"/><circle cx="7.6" cy="50" r="3.6" fill="#fff"/><circle cx="7.6" cy="60.6" r="3.6" fill="#fff"/><circle cx="7.6" cy="71.2" r="3.6" fill="#fff"/><circle cx="7.6" cy="81.8" r="3.6" fill="#fff"/><circle cx="18.2" cy="7.6" r="3.6" fill="#fff"/><circle cx="18.2" cy="18.2" r="3.6" fill="#fff"/><circle cx="18.2" cy="28.8" r="3.6" fill="#fff"/><circle cx="18.2" cy="39.4" r="3.6" fill="#fff"/><circle cx="18.2" cy="50" r="3.6" fill="#fff"/><circle cx="18.2" cy="60.6" r="3.6" fill="#fff"/><circle cx="18.2" cy="71.2" r="3.6" fill="#fff"/><circle cx="18.2" cy="81.8" r="3.6" fill="#fff"/><circle cx="28.8" cy="7.6" r="3.6" fill="#fff"/><circle cx="28.8" cy="18.2" r="3.6" fill="#fff"/><circle cx="28.8" cy="28.8" r="3.6" fill="#fff"/><circle cx="28.8" cy="39.4" r="3.6" fill="#fff"/><circle cx="28.8" cy="50" r="3.6" fill="#fff"/><circle cx="28.8" cy="60.6" r="3.6" fill="#fff"/><circle cx="28.8" cy="71.2" r="3.6" fill="#fff"/><circle cx="28.8" cy="81.8" r="3.6" fill="#fff"/></g>
<circle cx="223.7" cy="179" r="28.8" fill="#000"/>
<circle cx="947.8" cy="297.1" r="28.8" fill="#000"/>
<circle cx="299.8" cy="730.5" r="28.8" fill="#000"/>
<text x="222.2" y="191.3" font-size="38.5" fill="#fff" text-anchor="middle" font-family="Liberation Sans">3</text>
<text x="947.9" y="309.4" font-size="38.5" fill="#fff" text-anchor="middle" font-family="Liberation Sans">2</text>
<path d="M302.2,745.6 V718.8 L300,718.8 Q298,723.5 292.6,725.3 V728.6 Q297,727.5 298.6,725.6 V745.6 Z" fill="#fff"/>
<path d="M667.8,745.8 Q671.5,748 673.6,751" stroke="#2b2b2b" stroke-width="1.7" fill="none" stroke-linecap="round"/>
<text x="306.46" y="103.1" font-size="23.55" font-weight="normal" fill="#2b2b2b" textLength="278.02" lengthAdjust="spacingAndGlyphs" font-family="Liberation Sans">Controller (12V/24V Auto)</text>
<text x="139.52" y="268.4" font-size="27.33" font-weight="normal" fill="#2b2b2b" textLength="98.72" lengthAdjust="spacingAndGlyphs" font-family="Liberation Sans">PV Panel</text>
<text x="90.54" y="411.5" font-size="24.71" font-weight="normal" fill="#2b2b2b" textLength="169.45" lengthAdjust="spacingAndGlyphs" font-family="Liberation Sans">MC4 Connector</text>
<text x="268.4" y="325" font-size="29.94" font-weight="normal" fill="#2b2b2b" textLength="99.48" lengthAdjust="spacingAndGlyphs" font-family="Liberation Sans">Breaker</text>
<text x="809.01" y="355" font-size="29.22" font-weight="normal" fill="#1f1f1f" textLength="97.46" lengthAdjust="spacingAndGlyphs" font-family="Liberation Sans">DC Load</text>
<text x="1117.9" y="604.1" font-size="27.91" font-weight="normal" fill="#1f1f1f" textLength="94.75" lengthAdjust="spacingAndGlyphs" font-family="Liberation Sans">AC Load</text>
<text x="286.58" y="588" font-size="29.07" font-weight="normal" fill="#222" textLength="65.1" lengthAdjust="spacingAndGlyphs" font-family="Liberation Sans">Fuse</text>
<text x="762.28" y="549.8" font-size="33.72" font-weight="normal" fill="#1a1a1a" textLength="111.43" lengthAdjust="spacingAndGlyphs" font-family="Liberation Sans">Inverter</text>
<text x="381.25" y="729.3" font-size="25.0" font-weight="normal" fill="#222" textLength="77.15" lengthAdjust="spacingAndGlyphs" font-family="Liberation Sans">Battery</text>
<text x="515.44" y="723.7" font-size="23.84" font-weight="normal" fill="#2b2b2b" textLength="262.17" lengthAdjust="spacingAndGlyphs" font-family="Liberation Sans">Lead-acid battery type:</text>
<text x="517.0" y="750.8" font-size="21.08" font-weight="normal" fill="#2b2b2b" textLength="148.43" lengthAdjust="spacingAndGlyphs" font-family="Liberation Sans">1. AGM=Sealed</text>
<text x="686.29" y="750.8" font-size="21.08" font-weight="normal" fill="#2b2b2b" textLength="153.84" lengthAdjust="spacingAndGlyphs" font-family="Liberation Sans">Flooded / OPEN</text>
<text x="516.57" y="780.6" font-size="20.49" font-weight="normal" fill="#2b2b2b" textLength="65.72" lengthAdjust="spacingAndGlyphs" font-family="Liberation Sans">2. GEL</text>
<text x="601.02" y="71" font-size="16.86" font-weight="normal" fill="#a83a45" stroke="#a83a45" stroke-width="0.45" textLength="333.49" lengthAdjust="spacingAndGlyphs" font-family="Liberation Sans">Only voltage reading on the display, no amps!</text>
<text x="617.72" y="162.1" font-size="12.35" font-weight="bold" fill="#3a3a3a" textLength="65.57" lengthAdjust="spacingAndGlyphs" font-family="Liberation Sans">Main display</text>
<text x="747.64" y="160.4" font-size="11.48" font-weight="bold" fill="#3a3a3a" textLength="68.07" lengthAdjust="spacingAndGlyphs" font-family="Liberation Sans">Float voltage</text>
<text x="855.45" y="160.4" font-size="11.19" font-weight="bold" fill="#3a3a3a" textLength="105.66" lengthAdjust="spacingAndGlyphs" font-family="Liberation Sans">Discharge reconnect</text>
<text x="615.4" y="260" font-size="10.9" font-weight="bold" fill="#3a3a3a" textLength="78.48" lengthAdjust="spacingAndGlyphs" font-family="Liberation Sans">Discharge stop</text>
<text x="748.9" y="260" font-size="10.9" font-weight="bold" fill="#3a3a3a" textLength="61.21" lengthAdjust="spacingAndGlyphs" font-family="Liberation Sans">Work mode</text>
<text x="876.54" y="263.6" font-size="11.48" font-weight="bold" fill="#3a3a3a" textLength="63.34" lengthAdjust="spacingAndGlyphs" font-family="Liberation Sans">Battery type</text>
</svg>
</body></html>
